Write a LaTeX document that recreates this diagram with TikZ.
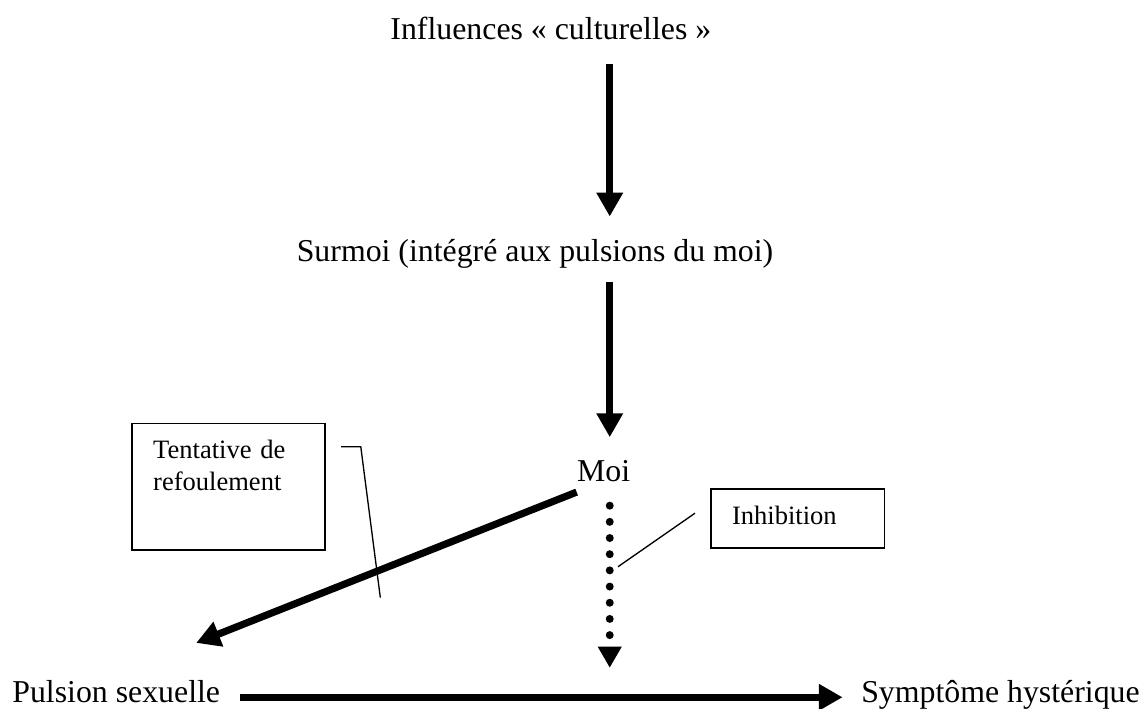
\documentclass[tikz,border=0pt]{standalone}
\usepackage{fontspec}
\setmainfont{Liberation Serif}
\usetikzlibrary{arrows.meta}

\begin{document}
\begin{tikzpicture}[
       texte/.style={
         font=\large,
         inner sep=0pt,
         anchor=base
       },
       boite/.style={
         draw,
         line width=0.6pt,
         anchor=north west,
         align=left,
         inner xsep=0.28cm,
         inner ysep=0.23cm,
         text height=0.24cm
       },
       fleche/.style={
         line width=2.7pt,
         -{Triangle[length=9pt,width=9.5pt]}
       },
       pointille/.style={
         line width=3pt,
         line cap=round,
         dash pattern=on 0pt off 6.1pt,
         -{Triangle[length=8pt,width=8.5pt]}
       },
       renvoi/.style={
         line width=0.5pt
       }
     ]

       \useasboundingbox (0,0) rectangle (15.16,9.39);

       \node (infl) at (7.30,8.86) [texte]{Influences « culturelles »};
       \node (surmoi) at (7.09,5.92) [texte]{Surmoi (intégré aux pulsions du moi)};
       \node (moi) at (8.00,3.01) [texte]{Moi};
       \node (pulsion) at (1.54,0.08) [texte]{Pulsion sexuelle};
       \node (symptome) at (15.11,0.08) [texte,anchor=base east]{Symptôme hystérique};

       \node (tentative) at (1.74,3.79) [boite,text width=2cm,text depth=0.98cm]{Tentative de\\refoulement};
       \node (inhibition) at (9.41,2.92) [boite,text width=1.74cm,text depth=0.08cm]{Inhibition};

       \coordinate (axe) at (8.08,0);
       \coordinate (pointe) at (2.60,0.87);
       \coordinate (croise) at (8.08,0.54);
       \coordinate (renvoi1) at (5.04,1.47);
       \coordinate (renvoi2) at (8.19,1.88);

       \draw[fleche,shorten <=0.31cm,shorten >=0.30cm] (infl.south -| axe) -- (surmoi.north -| axe);
       \draw[fleche,shorten <=0.17cm,shorten >=0.30cm] (surmoi.south -| axe) -- (moi.north -| axe);
       \draw[fleche] ([yshift=-0.13cm]moi.south west) -- (pointe);
       \draw[pointille,shorten <=0.31cm] (moi.south -| axe) -- (croise);
       \draw[fleche,shorten <=0.26cm,shorten >=0.24cm] ([yshift=0.07cm]pulsion.base east) -- ([yshift=0.07cm]symptome.base west);

       \draw[renvoi] ([xshift=0.2cm,yshift=0.53cm]tentative.east) -- ++(0.26,0) -- (renvoi1);
       \draw[renvoi] ([xshift=-0.2cm,yshift=0.07cm]inhibition.west) -- (renvoi2);

\end{tikzpicture}
\end{document}
